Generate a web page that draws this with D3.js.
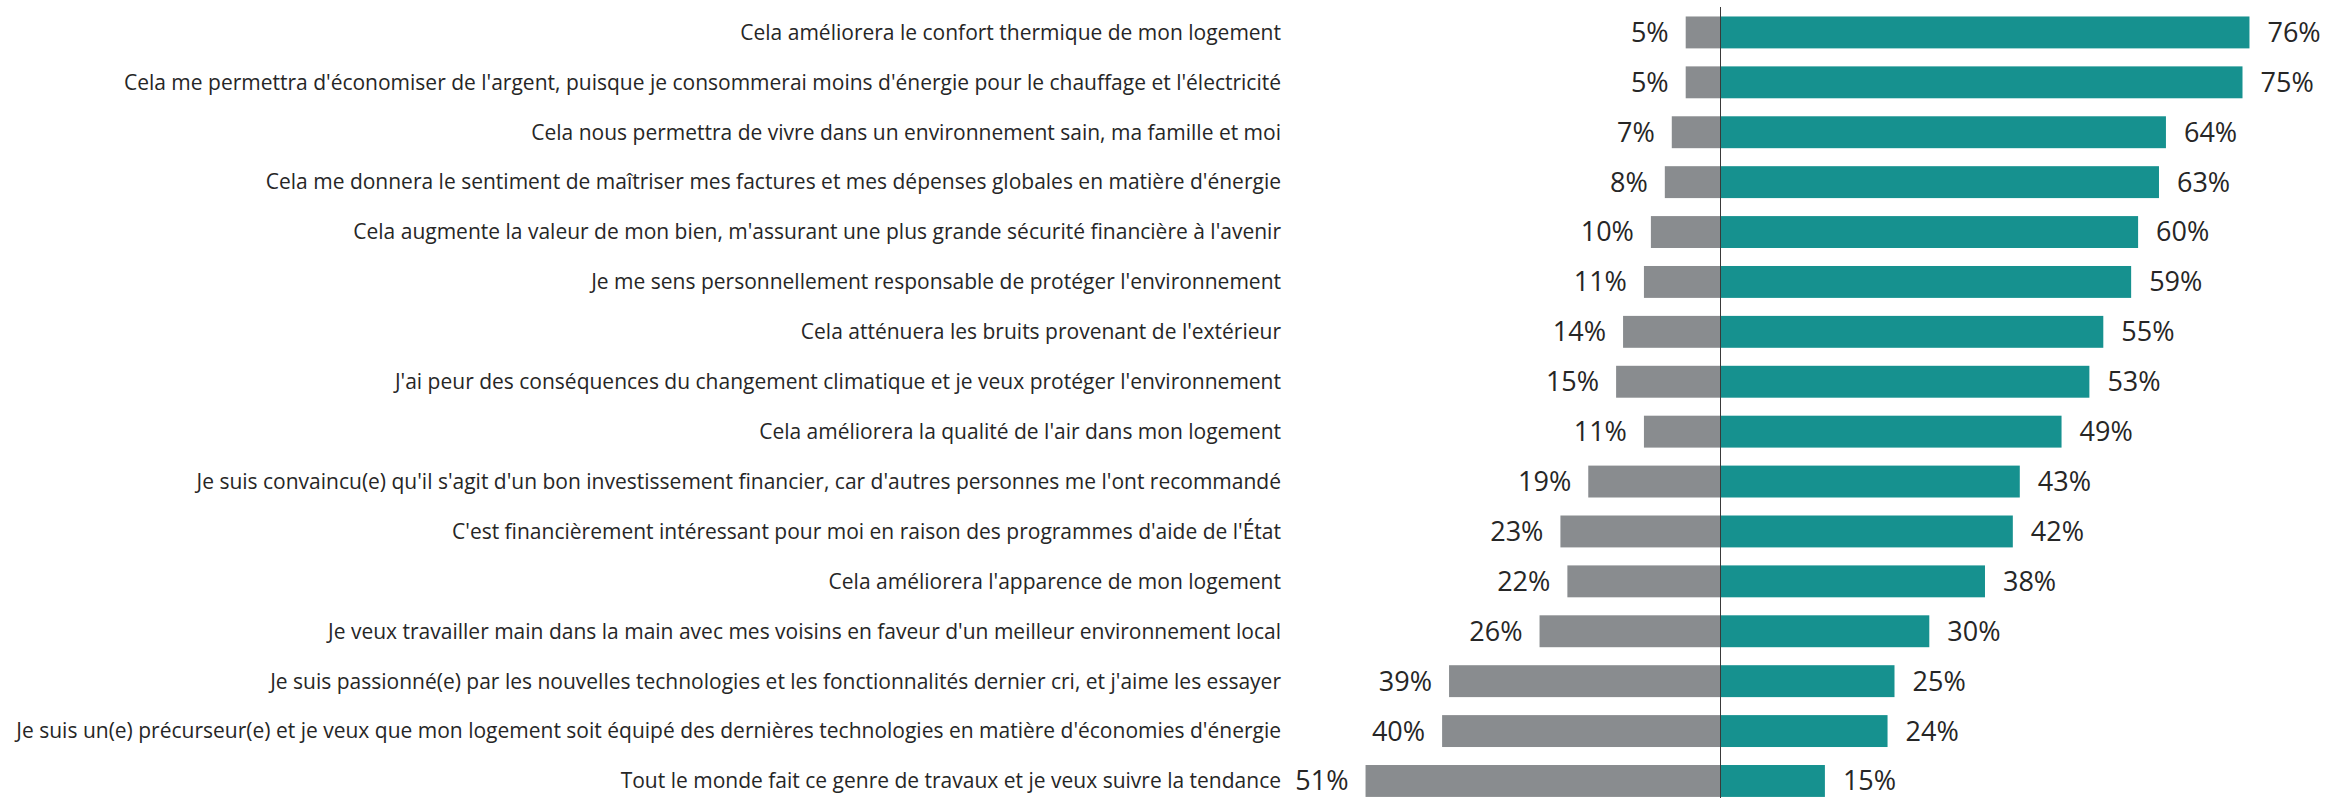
<!DOCTYPE html>
<html lang="fr">
<head>
<meta charset="utf-8">
<script src="https://cdn.jsdelivr.net/npm/d3@7"></script>
<style>
  html, body { margin: 0; padding: 0; background: #ffffff; }
  svg { display: block; }
  .cat { font-family: "Open Sans", sans-serif; font-size: 21px; fill: #262626; }
  .val { font-family: "Open Sans", sans-serif; font-size: 27px; fill: #262626; }
</style>
</head>
<body>
<svg id="chart" width="2351" height="798"></svg>
<script>
// Motivations for energy-renovation work: share agreeing vs. disagreeing
const categories = [
  "Cela améliorera le confort thermique de mon logement",
  "Cela me permettra d'économiser de l'argent, puisque je consommerai moins d'énergie pour le chauffage et l'électricité",
  "Cela nous permettra de vivre dans un environnement sain, ma famille et moi",
  "Cela me donnera le sentiment de maîtriser mes factures et mes dépenses globales en matière d'énergie",
  "Cela augmente la valeur de mon bien, m'assurant une plus grande sécurité financière à l'avenir",
  "Je me sens personnellement responsable de protéger l'environnement",
  "Cela atténuera les bruits provenant de l'extérieur",
  "J'ai peur des conséquences du changement climatique et je veux protéger l'environnement",
  "Cela améliorera la qualité de l'air dans mon logement",
  "Je suis convaincu(e) qu'il s'agit d'un bon investissement financier, car d'autres personnes me l'ont recommandé",
  "C'est financièrement intéressant pour moi en raison des programmes d'aide de l'État",
  "Cela améliorera l'apparence de mon logement",
  "Je veux travailler main dans la main avec mes voisins en faveur d'un meilleur environnement local",
  "Je suis passionné(e) par les nouvelles technologies et les fonctionnalités dernier cri, et j'aime les essayer",
  "Je suis un(e) précurseur(e) et je veux que mon logement soit équipé des dernières technologies en matière d'économies d'énergie",
  "Tout le monde fait ce genre de travaux et je veux suivre la tendance"
];
const agree    = [76, 75, 64, 63, 60, 59, 55, 53, 49, 43, 42, 38, 30, 25, 24, 15];
const disagree = [5, 5, 7, 8, 10, 11, 14, 15, 11, 19, 23, 22, 26, 39, 40, 51];

const colors = { agree: "#16918f", disagree: "#898c8f", axis: "#3a3a3a" };

const svg = d3.select("#chart");
const rows = categories.map((c, i) => ({ cat: c, agree: agree[i], disagree: disagree[i] }));

const x = d3.scaleLinear().domain([-60, 80]).range([1302.9, 2277.3]);
const y = d3.scaleBand()
  .domain(categories)
  .range([7.5, 805.9])
  .paddingInner(0.3607)
  .paddingOuter(0.18);

const g = svg.append("g");

// disagree bars extend left of zero
g.selectAll("rect.dis").data(rows).join("rect")
  .attr("class", "dis")
  .attr("x", d => x(-d.disagree))
  .attr("y", d => y(d.cat))
  .attr("width", d => x(0) - x(-d.disagree))
  .attr("height", y.bandwidth())
  .attr("fill", colors.disagree);

// agree bars extend right of zero
g.selectAll("rect.agr").data(rows).join("rect")
  .attr("class", "agr")
  .attr("x", x(0))
  .attr("y", d => y(d.cat))
  .attr("width", d => x(d.agree) - x(0))
  .attr("height", y.bandwidth())
  .attr("fill", colors.agree);

// zero line
g.append("line")
  .attr("x1", x(0)).attr("x2", x(0))
  .attr("y1", 7).attr("y2", 798)
  .attr("stroke", colors.axis)
  .attr("stroke-width", 1);

// value labels
g.selectAll("text.vdis").data(rows).join("text")
  .attr("class", "val vdis")
  .attr("x", d => x(-d.disagree) - 17)
  .attr("y", d => y(d.cat) + y.bandwidth() / 2)
  .attr("dy", "0.35em")
  .attr("text-anchor", "end")
  .text(d => d.disagree + "%");

g.selectAll("text.vagr").data(rows).join("text")
  .attr("class", "val vagr")
  .attr("x", d => x(d.agree) + 18)
  .attr("y", d => y(d.cat) + y.bandwidth() / 2)
  .attr("dy", "0.35em")
  .attr("text-anchor", "start")
  .text(d => d.agree + "%");

// category labels, right-aligned
g.selectAll("text.cat").data(rows).join("text")
  .attr("class", "cat")
  .attr("x", 1281)
  .attr("y", d => y(d.cat) + y.bandwidth() / 2)
  .attr("dy", "0.35em")
  .attr("text-anchor", "end")
  .text(d => d.cat);
</script>
</body>
</html>
